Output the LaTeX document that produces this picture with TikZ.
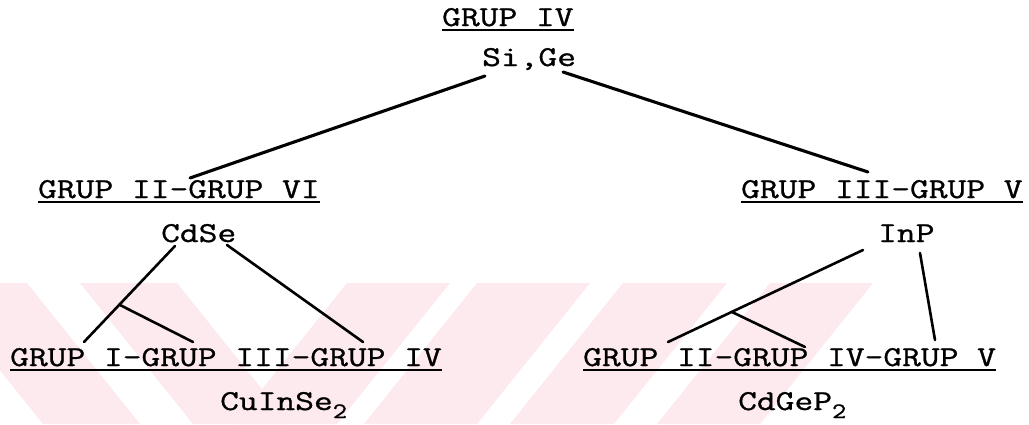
\documentclass[tikz,border=0pt]{standalone}
\usepackage{fontspec}
\newfontfamily\typewriter[FakeStretch=1.265,FakeBold=1.0]{Latin Modern Mono}
\definecolor{stamp}{RGB}{253,234,238}
\tikzset{
  lbl/.style={inner sep=0pt, anchor=base west, font=\typewriter\fontsize{28.8}{34}\selectfont},
  link/.style={line width=3.1pt, line cap=round},
  thinlink/.style={line width=2.6pt, line cap=round},
  ul/.style={line width=1.9pt}
}
\newcommand{\chemsub}[1]{\raisebox{-0.28em}{\fontsize{22}{24}\selectfont #1}}

\begin{document}
\begin{tikzpicture}[x=1pt,y=-1pt]
\useasboundingbox (0,0) rectangle (1029,424);
\fill[white] (0,0) rectangle (1029,424);

% faint striped stamp behind the lower part
\begin{scope}
  \clip (0,0) rectangle (1029,424);
  \fill[stamp] (-70,283) -- (27,283) -- (140,424) -- (43,424) -- cycle;
  \fill[stamp] (80,283) -- (177,283) -- (290,424) -- (193,424) -- cycle;
  \fill[stamp] (347,283) -- (450,283) -- (337,424) -- (234,424) -- cycle;
  \fill[stamp] (477,283) -- (590,283) -- (477,424) -- (364,424) -- cycle;
  \fill[stamp] (623,283) -- (727,283) -- (614,424) -- (510,424) -- cycle;
  \fill[stamp] (770,283) -- (873,283) -- (760,424) -- (657,424) -- cycle;
\end{scope}

% labels
\node[lbl] (g4)   at (442,26)  {GRUP IV};
\node[lbl] (sige) at (482,66)  {Si,Ge};
\node[lbl] (g26)  at (38,198)  {GRUP II-GRUP VI};
\node[lbl] (cdse) at (161,242) {CdSe};
\node[lbl] (g35)  at (741,198) {GRUP III-GRUP V};
\node[lbl] (inp)  at (878,242) {InP};
\node[lbl] (g134) at (10,366)  {GRUP I-GRUP III-GRUP IV};
\node[lbl] (cuinse) at (220,410) {CuInSe\chemsub{2}};
\node[lbl] (g245) at (583,366) {GRUP II-GRUP IV-GRUP V};
\node[lbl] (cdgep) at (738,410) {CdGeP\chemsub{2}};

% underlined group headings
\foreach \n in {g4,g26,g35,g134,g245}
  \draw[ul] ([yshift=-4pt]\n.base west) -- ([yshift=-4pt]\n.base east);

% end points of the connectors
\coordinate (sigeL) at (485,76);
\coordinate (sigeR) at (563,72);
\coordinate (g26top) at (190,178);
\coordinate (g35top) at (868,172);

\coordinate (cdseL) at (175,246);
\coordinate (cdseR) at (227,245);
\coordinate (cdseFork) at (120,305);
\coordinate (g134a) at (84,342);
\coordinate (g134b) at (193,342);
\coordinate (g134c) at (363,342);

\coordinate (inpL) at (863,250);
\coordinate (inpR) at (920,253);
\coordinate (inpFork) at (732,312);
\coordinate (g245a) at (668,342);
\coordinate (g245b) at (805,347);
\coordinate (g245c) at (935,340);

% connectors
\draw[link] (sigeL) -- (g26top);
\draw[link] (sigeR) -- (g35top);

\draw[thinlink] (cdseL) -- (g134a);
\draw[thinlink] (cdseFork) -- (g134b);
\draw[thinlink] (cdseR) -- (g134c);

\draw[thinlink] (inpL) -- (g245a);
\draw[thinlink] (inpFork) -- (g245b);
\draw[thinlink] (inpR) -- (g245c);
\end{tikzpicture}
\end{document}
